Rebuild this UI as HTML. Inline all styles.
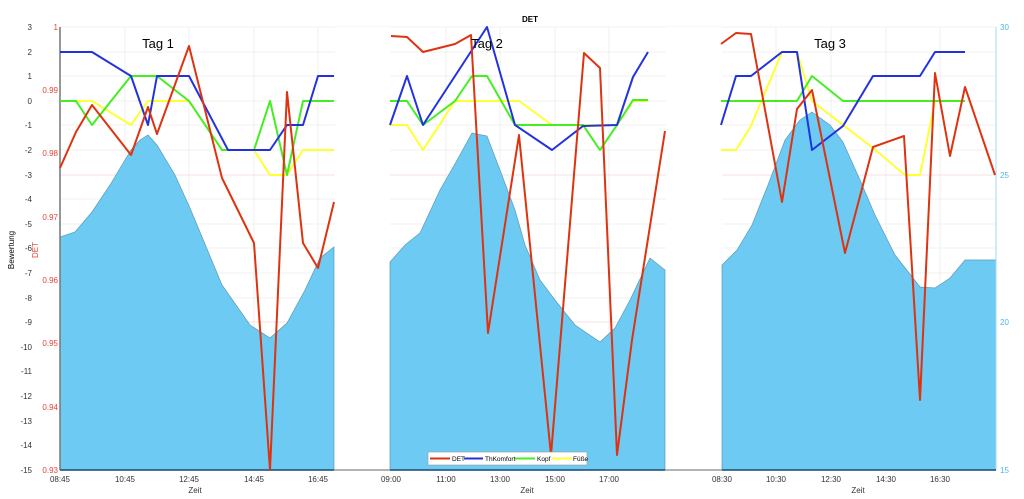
<!DOCTYPE html>
<html><head><meta charset="utf-8"><style>
body{margin:0;background:#fff;}
svg{display:block;font-family:"Liberation Sans",sans-serif;}
</style></head><body>
<svg width="1024" height="499" viewBox="0 0 1024 499" xmlns="http://www.w3.org/2000/svg">
<rect width="1024" height="499" fill="#fff"/>
<!-- grid -->
<g stroke="#ececec" stroke-width="0.8">
<line x1="60" y1="52" x2="996" y2="52"/><line x1="60" y1="76" x2="996" y2="76"/><line x1="60" y1="101" x2="996" y2="101"/><line x1="60" y1="125" x2="996" y2="125"/><line x1="60" y1="150" x2="996" y2="150"/><line x1="60" y1="175" x2="996" y2="175"/><line x1="60" y1="199" x2="996" y2="199"/><line x1="60" y1="224" x2="996" y2="224"/><line x1="60" y1="248" x2="996" y2="248"/><line x1="60" y1="273" x2="996" y2="273"/><line x1="60" y1="298" x2="996" y2="298"/><line x1="60" y1="322" x2="996" y2="322"/><line x1="60" y1="347" x2="996" y2="347"/><line x1="60" y1="371" x2="996" y2="371"/><line x1="60" y1="396" x2="996" y2="396"/><line x1="60" y1="421" x2="996" y2="421"/><line x1="60" y1="445" x2="996" y2="445"/><line x1="60" y1="27" x2="996" y2="27"/>
<line x1="125" y1="27" x2="125" y2="470"/><line x1="189" y1="27" x2="189" y2="470"/><line x1="254" y1="27" x2="254" y2="470"/><line x1="318" y1="27" x2="318" y2="470"/>
<line x1="446" y1="27" x2="446" y2="470"/><line x1="500" y1="27" x2="500" y2="470"/><line x1="555" y1="27" x2="555" y2="470"/><line x1="609" y1="27" x2="609" y2="470"/>
<line x1="776" y1="27" x2="776" y2="470"/><line x1="831" y1="27" x2="831" y2="470"/><line x1="886" y1="27" x2="886" y2="470"/><line x1="940" y1="27" x2="940" y2="470"/>
</g>
<g stroke="#f6dada" stroke-width="0.8"><line x1="60" y1="175" x2="996" y2="175"/><line x1="60" y1="322" x2="996" y2="322"/></g>
<!-- gaps white -->
<rect x="335" y="27" width="55" height="443" fill="#fff"/>
<rect x="666" y="27" width="56" height="443" fill="#fff"/>
<!-- areas -->
<g fill="#6ccaf3" stroke="#5a9ab8" stroke-width="0.7">
<polygon points="60,470 60,237 75,232 92,212 110,185 131,150 140,140 148,135 157,145 175,175 190,208 222,285 250,325 270,338 287,323 305,290 320,258 334,247 334,470"/>
<polygon points="390,470 390,262 405,245 420,233 440,190 456,162 472,133 487,136 500,170 515,210 525,245 540,280 555,300 575,325 600,342 615,328 630,300 650,258 665,270 665,470"/>
<polygon points="722,470 722,265 737,250 752,225 768,185 785,140 800,120 812,112 830,125 843,142 860,180 875,215 895,255 920,287 935,288 950,278 965,260 996,260 996,470"/>
</g>
<!-- axes -->
<line x1="60" y1="27" x2="60" y2="470" stroke="#777" stroke-width="1.5"/>
<line x1="996" y1="27" x2="996" y2="470" stroke="#9fd8f5" stroke-width="1"/>
<line x1="60" y1="470" x2="996" y2="470" stroke="#888" stroke-width="1.2"/>
<line x1="60" y1="470" x2="334" y2="470" stroke="#1a4f7a" stroke-width="1.5"/>
<line x1="390" y1="470" x2="665" y2="470" stroke="#1a4f7a" stroke-width="1.5"/>
<line x1="722" y1="470" x2="996" y2="470" stroke="#1a4f7a" stroke-width="1.5"/>
<g fill="none" stroke-width="2" stroke-linejoin="round">
<!-- panel 1 -->
<polyline stroke="#ffff33" points="60,101 92,101 131,125 148,101 189,101 222,150 254,150 270,175 287,175 303,150 334,150"/>
<polyline stroke="#44ee22" points="60,101 76,101 92,125 131,76 157,76 189,101 222,150 254,150 270,101 287,175 303,101 334,101"/>
<polyline stroke="#2233dd" points="60,52 92,52 131,76 148,125 157,76 189,76 228,150 270,150 287,125 303,125 318,76 334,76"/>
<polyline stroke="#dd3311" points="60,168 76,132 92,105 131,155 148,107 157,134 189,46 222,178 254,243 270,470 287,92 303,243 318,268 334,202"/>
<!-- panel 2 -->
<polyline stroke="#ffff33" points="390,125 407,125 423,150 455,101 519,101 552,125 617,125 633,101 648,101"/>
<polyline stroke="#44ee22" points="390,101 407,101 423,125 455,101 472,76 487,76 515,125 552,125 583,125 600,150 617,125 633,100 648,100"/>
<polyline stroke="#2233dd" points="390,125 407,76 423,125 487,27 515,125 552,150 583,126 617,125 633,77 648,52"/>
<polyline stroke="#dd3311" points="391,36 407,37 423,52 455,44 471,35 488,333 519,135 551,455 584,53 600,68 617,455 632,340 665,131"/>
<!-- panel 3 -->
<polyline stroke="#ffff33" points="721,150 736,150 751,126 782,52 797,52 812,101 873,148 905,175 920,175 935,101 965,101"/>
<polyline stroke="#44ee22" points="721,101 797,101 812,76 843,101 965,101"/>
<polyline stroke="#2233dd" points="721,125 736,76 751,76 782,52 797,52 812,150 843,126 873,76 920,76 935,52 965,52"/>
<polyline stroke="#dd3311" points="721,44 736,33 751,34 782,202 797,109 812,90 845,253 873,147 904,136 920,400 935,73 950,156 965,87 995,175"/>
</g>
<!-- labels -->
<text x="530" y="22" font-size="8" font-weight="bold" text-anchor="middle">DET</text>
<g font-size="13" text-anchor="middle"><text x="158" y="48">Tag 1</text><text x="487" y="48">Tag 2</text><text x="830" y="48">Tag 3</text></g>
<g font-size="8" fill="#333" text-anchor="end">
<text x="32" y="30">3</text><text x="32" y="55">2</text><text x="32" y="79">1</text><text x="32" y="104">0</text><text x="32" y="128">-1</text><text x="32" y="153">-2</text><text x="32" y="178">-3</text><text x="32" y="202">-4</text><text x="32" y="227">-5</text><text x="32" y="251">-6</text><text x="32" y="276">-7</text><text x="32" y="301">-8</text><text x="32" y="325">-9</text><text x="32" y="350">-10</text><text x="32" y="374">-11</text><text x="32" y="399">-12</text><text x="32" y="424">-13</text><text x="32" y="448">-14</text><text x="32" y="473">-15</text>
</g>
<g font-size="8" fill="#e0443a" text-anchor="end">
<text x="58" y="30">1</text><text x="58" y="93">0.99</text><text x="58" y="156">0.98</text><text x="58" y="220">0.97</text><text x="58" y="283">0.96</text><text x="58" y="346">0.95</text><text x="58" y="410">0.94</text><text x="58" y="473">0.93</text>
</g>
<g font-size="8" fill="#4ab8ee"><text x="1000" y="30">30</text><text x="1000" y="178">25</text><text x="1000" y="325">20</text><text x="1000" y="473">15</text></g>
<text transform="translate(14,250) rotate(-90)" font-size="8" text-anchor="middle">Bewertung</text>
<text transform="translate(38,250) rotate(-90)" font-size="8" fill="#e0443a" text-anchor="middle">DET</text>
<g font-size="8" fill="#333" text-anchor="middle">
<text x="60" y="482">08:45</text><text x="125" y="482">10:45</text><text x="189" y="482">12:45</text><text x="254" y="482">14:45</text><text x="318" y="482">16:45</text>
<text x="391" y="482">09:00</text><text x="446" y="482">11:00</text><text x="500" y="482">13:00</text><text x="555" y="482">15:00</text><text x="609" y="482">17:00</text>
<text x="722" y="482">08:30</text><text x="776" y="482">10:30</text><text x="831" y="482">12:30</text><text x="886" y="482">14:30</text><text x="940" y="482">16:30</text>
<text x="195" y="493">Zeit</text><text x="527" y="493">Zeit</text><text x="858" y="493">Zeit</text>
</g>
<!-- legend -->
<rect x="428" y="452" width="159" height="13" fill="#fff" stroke="#999" stroke-width="0.6"/>
<g stroke-width="2"><line x1="430" y1="458.5" x2="450" y2="458.5" stroke="#dd3311"/><line x1="464" y1="458.5" x2="483" y2="458.5" stroke="#2233dd"/><line x1="515" y1="458.5" x2="535" y2="458.5" stroke="#44ee22"/><line x1="552" y1="458.5" x2="572" y2="458.5" stroke="#ffff33"/></g>
<g font-size="6.5"><text x="452" y="461">DET</text><text x="485" y="461">ThKomfort</text><text x="537" y="461">Kopf</text><text x="573" y="461">Füße</text></g>
</svg>
</body></html>
